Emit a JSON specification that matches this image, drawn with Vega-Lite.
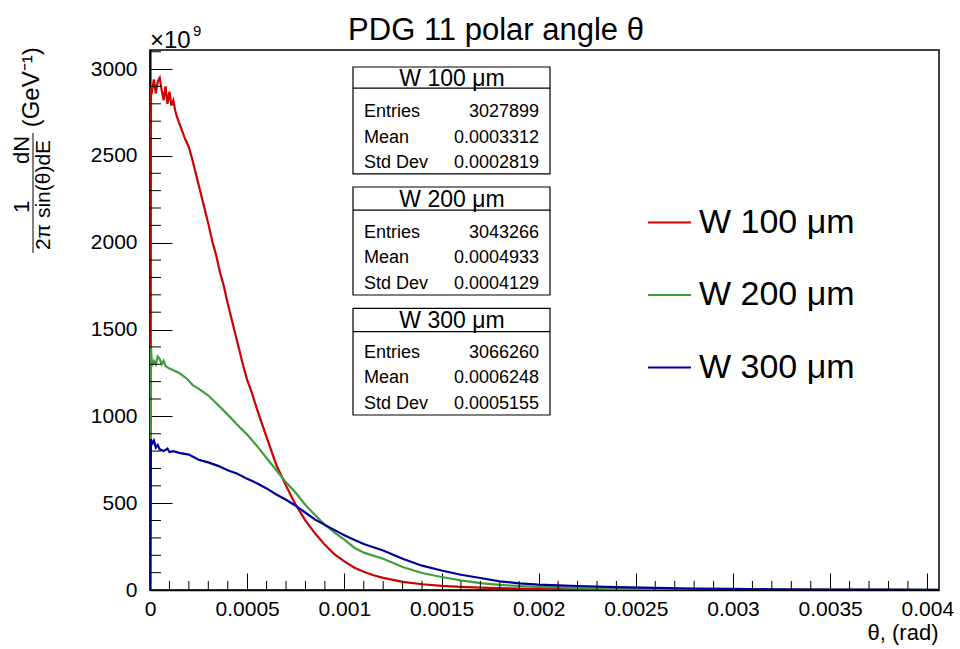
{
  "$schema": "https://vega.github.io/schema/vega-lite/v6.json",
  "width": 789,
  "height": 540,
  "autosize": {"type": "none"},
  "padding": {"left": 150, "top": 50, "right": 21, "bottom": 59},
  "background": "white",
  "config": {
    "font": "Liberation Sans",
    "view": {"stroke": "black", "strokeWidth": 1.5},
    "axis": {"labelFont": "Liberation Sans", "labelFontSize": 21, "labelColor": "black", "domainColor": "black", "tickColor": "black", "grid": false}
  },
  "resolve": {"axis": {"x": "independent", "y": "independent"}},
  "datasets": {
    "minorx": [
      {"t": 0.0001}, {"t": 0.0002}, {"t": 0.0003}, {"t": 0.0004}, {"t": 0.0006}, {"t": 0.0007}, {"t": 0.0008}, {"t": 0.0009},
      {"t": 0.0011}, {"t": 0.0012}, {"t": 0.0013}, {"t": 0.0014}, {"t": 0.0016}, {"t": 0.0017}, {"t": 0.0018}, {"t": 0.0019},
      {"t": 0.0021}, {"t": 0.0022}, {"t": 0.0023}, {"t": 0.0024}, {"t": 0.0026}, {"t": 0.0027}, {"t": 0.0028}, {"t": 0.0029},
      {"t": 0.0031}, {"t": 0.0032}, {"t": 0.0033}, {"t": 0.0034}, {"t": 0.0036}, {"t": 0.0037}, {"t": 0.0038}, {"t": 0.0039}
    ],
    "minory": [
      {"t": 100}, {"t": 200}, {"t": 300}, {"t": 400}, {"t": 600}, {"t": 700}, {"t": 800}, {"t": 900},
      {"t": 1100}, {"t": 1200}, {"t": 1300}, {"t": 1400}, {"t": 1600}, {"t": 1700}, {"t": 1800}, {"t": 1900},
      {"t": 2100}, {"t": 2200}, {"t": 2300}, {"t": 2400}, {"t": 2600}, {"t": 2700}, {"t": 2800}, {"t": 2900}, {"t": 3100}
    ],
    "hist": [
      {"theta": 0, "dNdE": 0, "sample": "W 100 μm"},
      {"theta": 0.000005, "dNdE": 2880, "sample": "W 100 μm"},
      {"theta": 0.00001, "dNdE": 2870, "sample": "W 100 μm"},
      {"theta": 0.00002, "dNdE": 2940, "sample": "W 100 μm"},
      {"theta": 0.00003, "dNdE": 2860, "sample": "W 100 μm"},
      {"theta": 0.00004, "dNdE": 2930, "sample": "W 100 μm"},
      {"theta": 0.00005, "dNdE": 2950, "sample": "W 100 μm"},
      {"theta": 0.00006, "dNdE": 2880, "sample": "W 100 μm"},
      {"theta": 0.00007, "dNdE": 2820, "sample": "W 100 μm"},
      {"theta": 0.00008, "dNdE": 2900, "sample": "W 100 μm"},
      {"theta": 0.00009, "dNdE": 2800, "sample": "W 100 μm"},
      {"theta": 0.0001, "dNdE": 2870, "sample": "W 100 μm"},
      {"theta": 0.00011, "dNdE": 2790, "sample": "W 100 μm"},
      {"theta": 0.00012, "dNdE": 2820, "sample": "W 100 μm"},
      {"theta": 0.00013, "dNdE": 2760, "sample": "W 100 μm"},
      {"theta": 0.00014, "dNdE": 2720, "sample": "W 100 μm"},
      {"theta": 0.00016, "dNdE": 2660, "sample": "W 100 μm"},
      {"theta": 0.00018, "dNdE": 2600, "sample": "W 100 μm"},
      {"theta": 0.0002, "dNdE": 2550, "sample": "W 100 μm"},
      {"theta": 0.00022, "dNdE": 2470, "sample": "W 100 μm"},
      {"theta": 0.00024, "dNdE": 2380, "sample": "W 100 μm"},
      {"theta": 0.00026, "dNdE": 2290, "sample": "W 100 μm"},
      {"theta": 0.00028, "dNdE": 2200, "sample": "W 100 μm"},
      {"theta": 0.0003, "dNdE": 2110, "sample": "W 100 μm"},
      {"theta": 0.00032, "dNdE": 2010, "sample": "W 100 μm"},
      {"theta": 0.00034, "dNdE": 1930, "sample": "W 100 μm"},
      {"theta": 0.00036, "dNdE": 1830, "sample": "W 100 μm"},
      {"theta": 0.00038, "dNdE": 1750, "sample": "W 100 μm"},
      {"theta": 0.0004, "dNdE": 1650, "sample": "W 100 μm"},
      {"theta": 0.00042, "dNdE": 1560, "sample": "W 100 μm"},
      {"theta": 0.00044, "dNdE": 1470, "sample": "W 100 μm"},
      {"theta": 0.00046, "dNdE": 1380, "sample": "W 100 μm"},
      {"theta": 0.00048, "dNdE": 1290, "sample": "W 100 μm"},
      {"theta": 0.0005, "dNdE": 1210, "sample": "W 100 μm"},
      {"theta": 0.00052, "dNdE": 1150, "sample": "W 100 μm"},
      {"theta": 0.00054, "dNdE": 1080, "sample": "W 100 μm"},
      {"theta": 0.00056, "dNdE": 1010, "sample": "W 100 μm"},
      {"theta": 0.00058, "dNdE": 945, "sample": "W 100 μm"},
      {"theta": 0.0006, "dNdE": 880, "sample": "W 100 μm"},
      {"theta": 0.00065, "dNdE": 720, "sample": "W 100 μm"},
      {"theta": 0.0007, "dNdE": 600, "sample": "W 100 μm"},
      {"theta": 0.00075, "dNdE": 490, "sample": "W 100 μm"},
      {"theta": 0.0008, "dNdE": 400, "sample": "W 100 μm"},
      {"theta": 0.00085, "dNdE": 325, "sample": "W 100 μm"},
      {"theta": 0.0009, "dNdE": 260, "sample": "W 100 μm"},
      {"theta": 0.00095, "dNdE": 205, "sample": "W 100 μm"},
      {"theta": 0.001, "dNdE": 165, "sample": "W 100 μm"},
      {"theta": 0.00105, "dNdE": 130, "sample": "W 100 μm"},
      {"theta": 0.0011, "dNdE": 105, "sample": "W 100 μm"},
      {"theta": 0.00115, "dNdE": 85, "sample": "W 100 μm"},
      {"theta": 0.0012, "dNdE": 70, "sample": "W 100 μm"},
      {"theta": 0.0013, "dNdE": 47, "sample": "W 100 μm"},
      {"theta": 0.0014, "dNdE": 33, "sample": "W 100 μm"},
      {"theta": 0.0015, "dNdE": 24, "sample": "W 100 μm"},
      {"theta": 0.0016, "dNdE": 18, "sample": "W 100 μm"},
      {"theta": 0.0017, "dNdE": 14, "sample": "W 100 μm"},
      {"theta": 0.0018, "dNdE": 11, "sample": "W 100 μm"},
      {"theta": 0.0019, "dNdE": 8, "sample": "W 100 μm"},
      {"theta": 0.002, "dNdE": 6, "sample": "W 100 μm"},
      {"theta": 0.0022, "dNdE": 4, "sample": "W 100 μm"},
      {"theta": 0.0024, "dNdE": 2, "sample": "W 100 μm"},
      {"theta": 0.0026, "dNdE": 1, "sample": "W 100 μm"},
      {"theta": 0.003, "dNdE": 0.5, "sample": "W 100 μm"},
      {"theta": 0.0035, "dNdE": 0.2, "sample": "W 100 μm"},
      {"theta": 0.00406, "dNdE": 0, "sample": "W 100 μm"},

      {"theta": 0, "dNdE": 0, "sample": "W 200 μm"},
      {"theta": 0.000005, "dNdE": 1400, "sample": "W 200 μm"},
      {"theta": 0.00001, "dNdE": 1290, "sample": "W 200 μm"},
      {"theta": 0.00002, "dNdE": 1320, "sample": "W 200 μm"},
      {"theta": 0.00003, "dNdE": 1300, "sample": "W 200 μm"},
      {"theta": 0.00004, "dNdE": 1345, "sample": "W 200 μm"},
      {"theta": 0.00005, "dNdE": 1330, "sample": "W 200 μm"},
      {"theta": 0.00006, "dNdE": 1300, "sample": "W 200 μm"},
      {"theta": 0.00007, "dNdE": 1320, "sample": "W 200 μm"},
      {"theta": 0.00008, "dNdE": 1290, "sample": "W 200 μm"},
      {"theta": 0.0001, "dNdE": 1275, "sample": "W 200 μm"},
      {"theta": 0.00012, "dNdE": 1265, "sample": "W 200 μm"},
      {"theta": 0.00015, "dNdE": 1250, "sample": "W 200 μm"},
      {"theta": 0.00018, "dNdE": 1225, "sample": "W 200 μm"},
      {"theta": 0.0002, "dNdE": 1205, "sample": "W 200 μm"},
      {"theta": 0.00022, "dNdE": 1180, "sample": "W 200 μm"},
      {"theta": 0.00025, "dNdE": 1160, "sample": "W 200 μm"},
      {"theta": 0.0003, "dNdE": 1120, "sample": "W 200 μm"},
      {"theta": 0.00035, "dNdE": 1065, "sample": "W 200 μm"},
      {"theta": 0.0004, "dNdE": 1010, "sample": "W 200 μm"},
      {"theta": 0.00045, "dNdE": 950, "sample": "W 200 μm"},
      {"theta": 0.0005, "dNdE": 895, "sample": "W 200 μm"},
      {"theta": 0.00055, "dNdE": 830, "sample": "W 200 μm"},
      {"theta": 0.0006, "dNdE": 760, "sample": "W 200 μm"},
      {"theta": 0.00065, "dNdE": 690, "sample": "W 200 μm"},
      {"theta": 0.0007, "dNdE": 620, "sample": "W 200 μm"},
      {"theta": 0.00075, "dNdE": 560, "sample": "W 200 μm"},
      {"theta": 0.0008, "dNdE": 490, "sample": "W 200 μm"},
      {"theta": 0.00085, "dNdE": 430, "sample": "W 200 μm"},
      {"theta": 0.0009, "dNdE": 375, "sample": "W 200 μm"},
      {"theta": 0.00095, "dNdE": 330, "sample": "W 200 μm"},
      {"theta": 0.001, "dNdE": 290, "sample": "W 200 μm"},
      {"theta": 0.00105, "dNdE": 245, "sample": "W 200 μm"},
      {"theta": 0.0011, "dNdE": 215, "sample": "W 200 μm"},
      {"theta": 0.0012, "dNdE": 180, "sample": "W 200 μm"},
      {"theta": 0.0013, "dNdE": 132, "sample": "W 200 μm"},
      {"theta": 0.0014, "dNdE": 98, "sample": "W 200 μm"},
      {"theta": 0.0015, "dNdE": 75, "sample": "W 200 μm"},
      {"theta": 0.0016, "dNdE": 55, "sample": "W 200 μm"},
      {"theta": 0.0017, "dNdE": 40, "sample": "W 200 μm"},
      {"theta": 0.0018, "dNdE": 29, "sample": "W 200 μm"},
      {"theta": 0.0019, "dNdE": 23, "sample": "W 200 μm"},
      {"theta": 0.002, "dNdE": 18, "sample": "W 200 μm"},
      {"theta": 0.0022, "dNdE": 12, "sample": "W 200 μm"},
      {"theta": 0.0024, "dNdE": 6, "sample": "W 200 μm"},
      {"theta": 0.0026, "dNdE": 4, "sample": "W 200 μm"},
      {"theta": 0.003, "dNdE": 2, "sample": "W 200 μm"},
      {"theta": 0.0035, "dNdE": 1, "sample": "W 200 μm"},
      {"theta": 0.00406, "dNdE": 0.5, "sample": "W 200 μm"},

      {"theta": 0, "dNdE": 0, "sample": "W 300 μm"},
      {"theta": 0.000005, "dNdE": 870, "sample": "W 300 μm"},
      {"theta": 0.00001, "dNdE": 840, "sample": "W 300 μm"},
      {"theta": 0.00002, "dNdE": 860, "sample": "W 300 μm"},
      {"theta": 0.00003, "dNdE": 820, "sample": "W 300 μm"},
      {"theta": 0.00004, "dNdE": 835, "sample": "W 300 μm"},
      {"theta": 0.00005, "dNdE": 810, "sample": "W 300 μm"},
      {"theta": 0.00007, "dNdE": 800, "sample": "W 300 μm"},
      {"theta": 0.00009, "dNdE": 815, "sample": "W 300 μm"},
      {"theta": 0.0001, "dNdE": 795, "sample": "W 300 μm"},
      {"theta": 0.00012, "dNdE": 800, "sample": "W 300 μm"},
      {"theta": 0.00015, "dNdE": 790, "sample": "W 300 μm"},
      {"theta": 0.0002, "dNdE": 780, "sample": "W 300 μm"},
      {"theta": 0.00025, "dNdE": 750, "sample": "W 300 μm"},
      {"theta": 0.0003, "dNdE": 735, "sample": "W 300 μm"},
      {"theta": 0.00035, "dNdE": 715, "sample": "W 300 μm"},
      {"theta": 0.0004, "dNdE": 690, "sample": "W 300 μm"},
      {"theta": 0.00045, "dNdE": 670, "sample": "W 300 μm"},
      {"theta": 0.0005, "dNdE": 640, "sample": "W 300 μm"},
      {"theta": 0.00055, "dNdE": 615, "sample": "W 300 μm"},
      {"theta": 0.0006, "dNdE": 585, "sample": "W 300 μm"},
      {"theta": 0.00065, "dNdE": 550, "sample": "W 300 μm"},
      {"theta": 0.0007, "dNdE": 520, "sample": "W 300 μm"},
      {"theta": 0.00075, "dNdE": 485, "sample": "W 300 μm"},
      {"theta": 0.0008, "dNdE": 445, "sample": "W 300 μm"},
      {"theta": 0.00085, "dNdE": 405, "sample": "W 300 μm"},
      {"theta": 0.0009, "dNdE": 375, "sample": "W 300 μm"},
      {"theta": 0.00095, "dNdE": 345, "sample": "W 300 μm"},
      {"theta": 0.001, "dNdE": 315, "sample": "W 300 μm"},
      {"theta": 0.00105, "dNdE": 290, "sample": "W 300 μm"},
      {"theta": 0.0011, "dNdE": 265, "sample": "W 300 μm"},
      {"theta": 0.0012, "dNdE": 228, "sample": "W 300 μm"},
      {"theta": 0.0013, "dNdE": 180, "sample": "W 300 μm"},
      {"theta": 0.0014, "dNdE": 140, "sample": "W 300 μm"},
      {"theta": 0.0015, "dNdE": 112, "sample": "W 300 μm"},
      {"theta": 0.0016, "dNdE": 88, "sample": "W 300 μm"},
      {"theta": 0.0017, "dNdE": 69, "sample": "W 300 μm"},
      {"theta": 0.0018, "dNdE": 50, "sample": "W 300 μm"},
      {"theta": 0.0019, "dNdE": 38, "sample": "W 300 μm"},
      {"theta": 0.002, "dNdE": 31, "sample": "W 300 μm"},
      {"theta": 0.0021, "dNdE": 27, "sample": "W 300 μm"},
      {"theta": 0.0022, "dNdE": 23, "sample": "W 300 μm"},
      {"theta": 0.0024, "dNdE": 17, "sample": "W 300 μm"},
      {"theta": 0.0026, "dNdE": 12, "sample": "W 300 μm"},
      {"theta": 0.0028, "dNdE": 8, "sample": "W 300 μm"},
      {"theta": 0.003, "dNdE": 6, "sample": "W 300 μm"},
      {"theta": 0.0032, "dNdE": 4, "sample": "W 300 μm"},
      {"theta": 0.0035, "dNdE": 3, "sample": "W 300 μm"},
      {"theta": 0.0038, "dNdE": 2, "sample": "W 300 μm"},
      {"theta": 0.00406, "dNdE": 1, "sample": "W 300 μm"}
    ]
  },
  "layer": [
    {
      "data": {"name": "hist"},
      "mark": {"type": "line", "strokeWidth": 2.2, "interpolate": "linear", "clip": true},
      "encoding": {
        "x": {
          "field": "theta", "type": "quantitative",
          "scale": {"domain": [0, 0.00406], "nice": false, "zero": false},
          "axis": {
            "values": [0, 0.0005, 0.001, 0.0015, 0.002, 0.0025, 0.003, 0.0035, 0.004],
            "labelExpr": "toString(round(datum.value*20000)/20000)",
            "tickSize": -17,
            "tickWidth": 1,
            "labelPadding": 25,
            "labelFlush": false,
            "labelOverlap": false,
            "domainWidth": 1.5,
            "title": "θ, (rad)",
            "titleFont": "Liberation Sans",
            "titleFontSize": 22,
            "titleFontWeight": "normal",
            "titleColor": "black",
            "titleAnchor": "end",
            "titleAlign": "right",
            "titleBaseline": "alphabetic",
            "titleX": 788,
            "titleY": 49
          }
        },
        "y": {
          "field": "dNdE", "type": "quantitative",
          "scale": {"domain": [0, 3110], "nice": false, "zero": false},
          "axis": {
            "values": [0, 500, 1000, 1500, 2000, 2500, 3000],
            "labelExpr": "toString(datum.value)",
            "tickSize": -22,
            "tickWidth": 1,
            "labelPadding": 35,
            "labelOverlap": false,
            "labelFlush": false,
            "domainWidth": 2,
            "title": null
          }
        },
        "color": {
          "field": "sample", "type": "nominal",
          "scale": {"domain": ["W 100 μm", "W 200 μm", "W 300 μm"], "range": ["#d00000", "#3e9e3e", "#000099"]},
          "legend": {"orient": "none", "legendX": 497, "legendY": 150, "title": null, "symbolType": "stroke", "symbolSize": 1849, "symbolStrokeWidth": 2, "labelFontSize": 34, "labelFont": "Liberation Sans", "labelColor": "black", "labelOffset": 7, "rowPadding": 32.5, "padding": 0}
        }
      }
    },
    {"data": {"name": "minorx"}, "mark": {"type": "rule", "color": "black", "strokeWidth": 1},
     "encoding": {"x": {"field": "t", "type": "quantitative", "axis": null}, "y": {"datum": 0, "type": "quantitative", "axis": null}, "y2": {"datum": 52}}},
    {"data": {"name": "minory"}, "mark": {"type": "rule", "color": "black", "strokeWidth": 1},
     "encoding": {"y": {"field": "t", "type": "quantitative", "axis": null}, "x": {"datum": 0, "type": "quantitative", "axis": null}, "x2": {"datum": 0.0000566}}},

    {"data": {"values": [{}]}, "mark": {"type": "text", "text": "PDG 11 polar angle θ", "font": "Liberation Sans", "fontSize": 31, "align": "center", "baseline": "alphabetic", "color": "black"},
     "encoding": {"x": {"datum": 0.0017805, "type": "quantitative", "axis": null}, "y": {"datum": 3168, "type": "quantitative", "axis": null}}},

    {"data": {"values": [{}]}, "mark": {"type": "rect", "fill": "white", "stroke": "black", "strokeWidth": 1.2},
     "encoding": {"x": {"datum": 0.0010446, "type": "quantitative", "axis": null}, "x2": {"datum": 0.0020583}, "y": {"datum": 3012, "type": "quantitative", "axis": null}, "y2": {"datum": 2396}}},
    {"data": {"values": [{}]}, "mark": {"type": "rule", "color": "black", "strokeWidth": 1.2},
     "encoding": {"x": {"datum": 0.0010446, "type": "quantitative", "axis": null}, "x2": {"datum": 0.0020583}, "y": {"datum": 2891, "type": "quantitative", "axis": null}}},
    {"data": {"values": [{}]}, "mark": {"type": "text", "text": "W 100 μm", "font": "Liberation Sans", "fontSize": 23, "align": "center", "baseline": "alphabetic", "color": "black"},
     "encoding": {"x": {"datum": 0.001554, "type": "quantitative", "axis": null}, "y": {"datum": 2900, "type": "quantitative", "axis": null}}},
    {"data": {"values": [{}]}, "mark": {"type": "text", "text": ["Entries", "Mean", "Std Dev"], "lineHeight": 25.5, "font": "Liberation Sans", "fontSize": 18, "align": "left", "baseline": "alphabetic", "color": "black"},
     "encoding": {"x": {"datum": 0.0011012, "type": "quantitative", "axis": null}, "y": {"datum": 2724, "type": "quantitative", "axis": null}}},
    {"data": {"values": [{}]}, "mark": {"type": "text", "text": ["3027899", "0.0003312", "0.0002819"], "lineHeight": 25.5, "font": "Liberation Sans", "fontSize": 18, "align": "right", "baseline": "alphabetic", "color": "black"},
     "encoding": {"x": {"datum": 0.0020017, "type": "quantitative", "axis": null}, "y": {"datum": 2724, "type": "quantitative", "axis": null}}},

    {"data": {"values": [{}]}, "mark": {"type": "rect", "fill": "white", "stroke": "black", "strokeWidth": 1.2},
     "encoding": {"x": {"datum": 0.0010446, "type": "quantitative", "axis": null}, "x2": {"datum": 0.0020583}, "y": {"datum": 2321, "type": "quantitative", "axis": null}, "y2": {"datum": 1699}}},
    {"data": {"values": [{}]}, "mark": {"type": "rule", "color": "black", "strokeWidth": 1.2},
     "encoding": {"x": {"datum": 0.0010446, "type": "quantitative", "axis": null}, "x2": {"datum": 0.0020583}, "y": {"datum": 2188, "type": "quantitative", "axis": null}}},
    {"data": {"values": [{}]}, "mark": {"type": "text", "text": "W 200 μm", "font": "Liberation Sans", "fontSize": 23, "align": "center", "baseline": "alphabetic", "color": "black"},
     "encoding": {"x": {"datum": 0.001554, "type": "quantitative", "axis": null}, "y": {"datum": 2207, "type": "quantitative", "axis": null}}},
    {"data": {"values": [{}]}, "mark": {"type": "text", "text": ["Entries", "Mean", "Std Dev"], "lineHeight": 25.5, "font": "Liberation Sans", "fontSize": 18, "align": "left", "baseline": "alphabetic", "color": "black"},
     "encoding": {"x": {"datum": 0.0011012, "type": "quantitative", "axis": null}, "y": {"datum": 2030, "type": "quantitative", "axis": null}}},
    {"data": {"values": [{}]}, "mark": {"type": "text", "text": ["3043266", "0.0004933", "0.0004129"], "lineHeight": 25.5, "font": "Liberation Sans", "fontSize": 18, "align": "right", "baseline": "alphabetic", "color": "black"},
     "encoding": {"x": {"datum": 0.0020017, "type": "quantitative", "axis": null}, "y": {"datum": 2030, "type": "quantitative", "axis": null}}},

    {"data": {"values": [{}]}, "mark": {"type": "rect", "fill": "white", "stroke": "black", "strokeWidth": 1.2},
     "encoding": {"x": {"datum": 0.0010446, "type": "quantitative", "axis": null}, "x2": {"datum": 0.0020583}, "y": {"datum": 1622, "type": "quantitative", "axis": null}, "y2": {"datum": 1008}}},
    {"data": {"values": [{}]}, "mark": {"type": "rule", "color": "black", "strokeWidth": 1.2},
     "encoding": {"x": {"datum": 0.0010446, "type": "quantitative", "axis": null}, "x2": {"datum": 0.0020583}, "y": {"datum": 1488, "type": "quantitative", "axis": null}}},
    {"data": {"values": [{}]}, "mark": {"type": "text", "text": "W 300 μm", "font": "Liberation Sans", "fontSize": 23, "align": "center", "baseline": "alphabetic", "color": "black"},
     "encoding": {"x": {"datum": 0.001554, "type": "quantitative", "axis": null}, "y": {"datum": 1507, "type": "quantitative", "axis": null}}},
    {"data": {"values": [{}]}, "mark": {"type": "text", "text": ["Entries", "Mean", "Std Dev"], "lineHeight": 25.5, "font": "Liberation Sans", "fontSize": 18, "align": "left", "baseline": "alphabetic", "color": "black"},
     "encoding": {"x": {"datum": 0.0011012, "type": "quantitative", "axis": null}, "y": {"datum": 1339, "type": "quantitative", "axis": null}}},
    {"data": {"values": [{}]}, "mark": {"type": "text", "text": ["3066260", "0.0006248", "0.0005155"], "lineHeight": 25.5, "font": "Liberation Sans", "fontSize": 18, "align": "right", "baseline": "alphabetic", "color": "black"},
     "encoding": {"x": {"datum": 0.0020017, "type": "quantitative", "axis": null}, "y": {"datum": 1339, "type": "quantitative", "axis": null}}},

    {"data": {"values": [{}]}, "mark": {"type": "text", "text": "×10", "font": "Liberation Sans", "fontSize": 24, "align": "left", "baseline": "alphabetic", "color": "black"},
     "encoding": {"x": {"datum": 0, "type": "quantitative", "axis": null}, "y": {"datum": 3121, "type": "quantitative", "axis": null}}},
    {"data": {"values": [{}]}, "mark": {"type": "text", "text": "9", "font": "Liberation Sans", "fontSize": 15, "align": "left", "baseline": "alphabetic", "color": "black"},
     "encoding": {"x": {"datum": 0.000221, "type": "quantitative", "axis": null}, "y": {"datum": 3190, "type": "quantitative", "axis": null}}},
    {"data": {"values": [{}]}, "mark": {"type": "text", "text": "1", "angle": 270, "font": "Liberation Sans", "fontSize": 22, "align": "center", "baseline": "middle", "color": "black"},
     "encoding": {"x": {"datum": -0.000659, "type": "quantitative", "axis": null}, "y": {"datum": 2206, "type": "quantitative", "axis": null}}},
    {"data": {"values": [{}]}, "mark": {"type": "text", "text": "dN", "angle": 270, "font": "Liberation Sans", "fontSize": 22, "align": "center", "baseline": "middle", "color": "black"},
     "encoding": {"x": {"datum": -0.000659, "type": "quantitative", "axis": null}, "y": {"datum": 2534, "type": "quantitative", "axis": null}}},
    {"data": {"values": [{}]}, "mark": {"type": "rule", "color": "black", "strokeWidth": 1},
     "encoding": {"x": {"datum": -0.000602, "type": "quantitative", "axis": null}, "y": {"datum": 2632, "type": "quantitative", "axis": null}, "y2": {"datum": 1941}}},
    {"data": {"values": [{}]}, "mark": {"type": "text", "text": "2π sin(θ)dE", "angle": 270, "font": "Liberation Sans", "fontSize": 21, "align": "center", "baseline": "middle", "color": "black"},
     "encoding": {"x": {"datum": -0.0005455, "type": "quantitative", "axis": null}, "y": {"datum": 2275, "type": "quantitative", "axis": null}}},
    {"data": {"values": [{}]}, "mark": {"type": "text", "text": "(GeV⁻¹)", "angle": 270, "font": "Liberation Sans", "fontSize": 24, "align": "center", "baseline": "middle", "color": "black"},
     "encoding": {"x": {"datum": -0.000607, "type": "quantitative", "axis": null}, "y": {"datum": 2895, "type": "quantitative", "axis": null}}}
  ]
}
